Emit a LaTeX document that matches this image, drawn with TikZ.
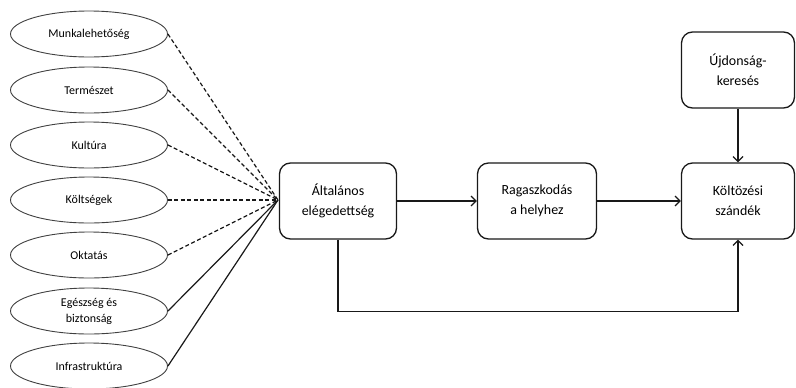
\documentclass[tikz,border=0pt]{standalone}
\usepackage{fontspec}
\setmainfont{Carlito}
\usetikzlibrary{shapes.geometric,arrows.meta}
\tikzset{
  factor/.style={ellipse,draw=black!75,line width=0.9bp,minimum width=157bp,minimum height=46bp,inner sep=0pt,align=center,font=\fontsize{12}{16}\selectfont,text=black},
  boxnode/.style={draw=black!90,line width=1.3bp,rounded corners=11bp,minimum width=117bp,minimum height=76bp,align=center,font=\fontsize{14}{20}\selectfont,text=black},
  link/.style={line width=1.2bp,draw=black!90},
  dlink/.style={link,dash pattern=on 4bp off 2.5bp},
  arr/.style={line width=1.2bp,draw=black!90,-{Straight Barb[length=5bp,width=10bp]}}
}
\begin{document}
\begin{tikzpicture}[x=1bp,y=-1bp]
\useasboundingbox (0,0) rectangle (796,387);
\node[factor] (f1) at (89,34) {Munkalehetőség};
\node[factor] (f2) at (89,90) {Természet};
\node[factor] (f3) at (89,145) {Kultúra};
\node[factor] (f4) at (89,200) {Költségek};
\node[factor] (f5) at (89,255) {Oktatás};
\node[factor] (f6) at (89,311) {Egészség és\\biztonság};
\node[factor] (f7) at (89,366) {Infrastruktúra};
\node[boxnode] (alt) at (338,201) {Általános\\elégedettség};
\node[boxnode,minimum width=119bp] (rag) at (537,201) {Ragaszkodás\\a helyhez};
\node[boxnode,minimum width=113bp] (kol) at (738,201) {Költözési\\szándék};
\node[boxnode,minimum width=113bp] (uj) at (738,70) {Újdonság-\\keresés};
\coordinate (conv) at (278,200);
\foreach \i in {1,...,5} \draw[dlink] (f\i.east) -- (conv);
\foreach \i in {6,7} \draw[link] (f\i.east) -- (conv);
\draw[arr] (alt) -- (rag);
\draw[arr] (rag) -- (kol);
\draw[arr] (uj) -- (kol);
\draw[arr] (alt.south) -- ++(0,72) -| (kol.south);
\end{tikzpicture}
\end{document}
